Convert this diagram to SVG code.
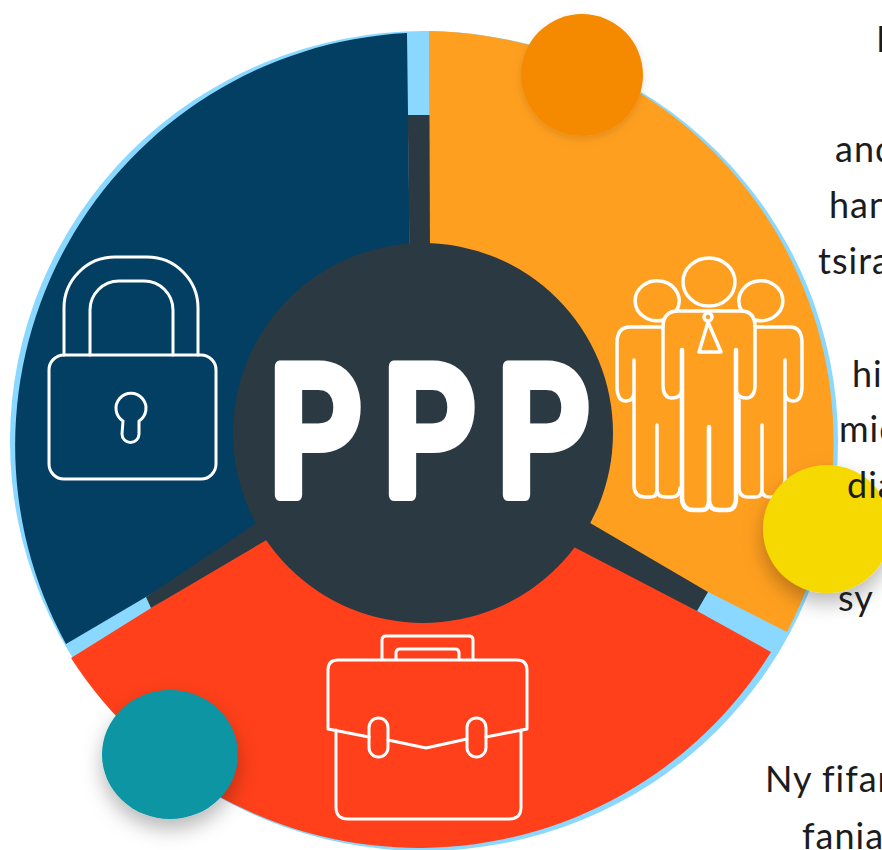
<svg xmlns="http://www.w3.org/2000/svg" width="882" height="850" viewBox="0 0 882 850">
<style>
.ln{fill:none;stroke:#fff;stroke-width:3;stroke-linejoin:round;stroke-linecap:round}
.ln3{fill:none;stroke:#fff;stroke-width:3.500;stroke-linejoin:round;stroke-linecap:round}
.ln2{fill:none;stroke:#fff;stroke-width:4.500;stroke-linejoin:round;stroke-linecap:round}
.t{font-family:"Lato","Open Sans",sans-serif;font-size:36px;letter-spacing:1px;fill:#1c1c1c}
.ppp{font-family:"Roboto","Liberation Sans",sans-serif;font-weight:500;font-size:180px;fill:#fff;stroke:#fff;stroke-width:12;stroke-linejoin:round}
</style>
<defs>
<filter id="sh" x="-40%" y="-40%" width="180%" height="190%"><feDropShadow dx="0" dy="10" stdDeviation="10" flood-color="#000" flood-opacity=".28"/></filter>
<filter id="sh2" x="-40%" y="-40%" width="180%" height="190%"><feDropShadow dx="0" dy="3" stdDeviation="5" flood-color="#000" flood-opacity=".12"/></filter>
</defs>
<rect width="882" height="850" fill="#fff"/>
<g id="wheel">
<ellipse cx="424" cy="441" rx="414" ry="410" fill="#8ad8ff"/>
<path id="wedge-blue" d="M407,33 A413,413 0 0 0 66,644 L350,477 L410,433 L409.700,250 L408,115 Z" fill="#023f63"/>
<path id="wedge-orange" d="M429,31 A411,411 0 0 1 787,632 L430,451 Z" fill="#ff9f1f"/>
<path id="wedge-red" d="M71,658 A414,414 0 0 0 771,652 L423,459 L423,438 Z" fill="#ff401a"/>
</g>
<g id="connectors" fill="#2b3a42">
<polygon points="407.800,115 429.500,115 430,255 409.500,255"/>
<polygon points="708,592 697,611 570,545 585,520"/>
<polygon points="146,597 151,608 275,535 258,522"/>
</g>
<g id="hub">
<circle cx="423" cy="433" r="190" fill="#2b3a42"/>
<text class="ppp" transform="translate(0,495) scale(.8,1)" x="336.600 479 621.600">PPP</text>
</g>
<g id="lock" class="ln">
<rect x="49" y="355" width="167" height="124" rx="15"/>
<path d="M64,355 V308 A51,51 0 0 1 115,257 H147 A51,51 0 0 1 198,308 V355"/>
<path d="M90,355 V310 A29,29 0 0 1 119,281 H144 A29,29 0 0 1 173,310 V355"/>
<path d="M123,421 A15,15 0 1 1 139,421 V434 A8.500,8.500 0 0 1 122,434 Z"/>
</g>
<g id="people" class="ln3">
<ellipse cx="709" cy="282" rx="26" ry="24"/>
<path d="M676,311 A22,20 0 1 0 663,320 M742,311 A22,20 0 1 1 755,320"/>
<path d="M663,327 H630 Q617,327 617,343 V386 Q617,401 626,401 Q634,401 634,392 V360 M634,392 V485 Q634,497 645,497 H650 Q657,497 657,490 V425 M657,490 Q657,497 666,497 H672 Q680,497 680,488"/>
<path d="M755,327 H790 Q802,327 802,343 V386 Q802,401 793,401 Q785,401 785,392 V360 M785,392 V480 M739,400 V488 Q739,497 748,497 H755 Q762,497 762,490 V425 M762,490 Q762,497 770,497 H775 Q782,497 785,480"/>
<path class="ln2" d="M682,350 V498 Q682,510 694,510 H702 Q709,510 709,500 V427 M709,500 Q709,510 719,510 H727 Q736,510 736,498 V350"/>
<path d="M678,311 H741 Q755,311 755,327 V385 Q755,398 746,398 Q736,398 736,388 M678,311 Q663,311 663,327 V385 Q663,398 672,398 Q682,398 682,388"/>
<circle cx="708" cy="317" r="4"/>
<polygon points="708,322 699,352 721,352"/>
</g>
<g id="briefcase" class="ln">
<path d="M382,659 V640 Q382,636 386,636 H469 Q473,636 473,640 V659"/>
<path d="M396,659 V653 Q396,649 400,649 H455 Q459,649 459,653 V659"/>
<path d="M369,737 L328,729 V670 Q328,660 338,660 H517 Q527,660 527,670 V729 L486,737"/>
<path d="M388,740 L426,748 L467,739"/>
<rect x="369" y="718" width="19" height="39" rx="9.500"/>
<rect x="467" y="718" width="19" height="39" rx="9.500"/>
<path d="M336,730 V807 Q336,819 348,819 H509 Q521,819 521,807 V730"/>
</g>
<g id="dot-orange"><circle cx="582" cy="75" r="61" fill="#f58a00" filter="url(#sh2)"/></g>
<g id="dot-yellow"><ellipse cx="827" cy="529" rx="64" ry="64" fill="#f6d900" filter="url(#sh)"/></g>
<g id="dot-teal"><ellipse cx="170" cy="754.500" rx="68" ry="64.500" fill="#0795a3" filter="url(#sh)"/></g>
<g id="copy">
<text class="t" x="876" y="52">I</text>
<text class="t" x="835" y="162">and</text>
<text class="t" x="829" y="218">han</text>
<text class="t" x="818" y="274">tsira</text>
<text class="t" x="852" y="387">hi</text>
<text class="t" x="839" y="442">mid</text>
<text class="t" x="847" y="498">dia</text>
<text class="t" x="838" y="611">sy</text>
<text class="t" x="765" y="792">Ny fifan</text>
<text class="t" x="802" y="849">fania</text>
</g>
</svg>
